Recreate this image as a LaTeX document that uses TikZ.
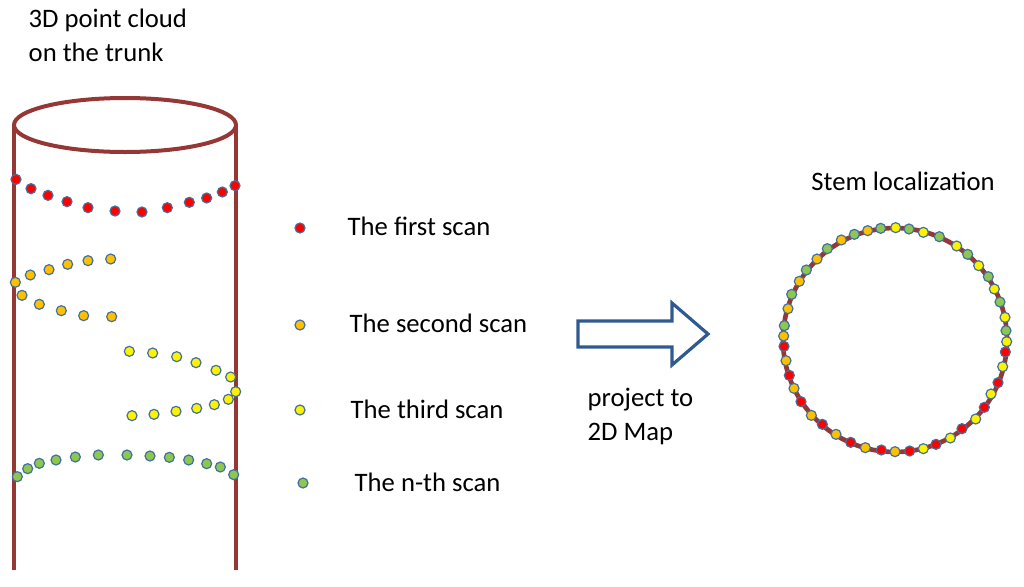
\documentclass[tikz,border=0pt]{standalone}
\usepackage{fontspec}
\setmainfont{Carlito}
\definecolor{brn}{HTML}{953735}
\definecolor{dotline}{HTML}{41719C}
\definecolor{org}{HTML}{FFC000}
\definecolor{grn}{HTML}{8DC650}
\definecolor{arr}{HTML}{2F5A8F}
\begin{document}
\begin{tikzpicture}[x=0.75pt,y=-0.75pt,
  dot/.style={circle,draw=dotline,line width=0.9pt,inner sep=0pt,minimum size=7.5pt},
  R/.style={dot,fill=red}, O/.style={dot,fill=org}, Y/.style={dot,fill=yellow}, G/.style={dot,fill=grn},
  wall/.style={draw=brn,line width=3pt},
  lbl/.style={font=\fontsize{20}{26}\selectfont,anchor=west}]
\useasboundingbox (0,0) rectangle (1024,586);
% cylinder
\draw[wall] (14,125) -- (14,570) (236,125) -- (236,570);
\draw[wall,fill=white] (125,125) ellipse [x radius=111, y radius=27];
\node[lbl,align=left,anchor=north west] (title) at (24,4) {3D point cloud\\on the trunk};
% cylinder dots (zoom coords)
\begin{scope}[shift={(0,170)},x=0.25pt,y=-0.25pt]
\foreach \a/\b in {48/28,93/56,144/76,201/95,264/113,345/123,426/126,502/113,568/97,620/84,667/66,705/47}
  \node[R] at (\a,\b) {};
\foreach \a/\b in {46/337,91/315,147/299,203/283,264/272,332/267,66/376,118/403,184/422,251/437,335/440}
  \node[O] at (\a,\b) {};
\foreach \a/\b in {388/544,458/549,530/560,588/578,648/601,692/621,707/665,685/688,643/704,590/715,528/724,462/733,396/737}
  \node[Y] at (\a,\b) {};
\foreach \a/\b in {52/920,83/896,118/880,168/870,226/861,295/855,381/855,450/858,508/862,566/870,620/881,661/891,701/914}
  \node[G] at (\a,\b) {};
\end{scope}
% legend
\node[R] (l1) at (300,228) {}; \node[lbl] (t1) at (343,226) {The first scan};
\node[O] (l2) at (300,325) {}; \node[lbl] (t2) at (345,323) {The second scan};
\node[Y] (l3) at (300,410) {}; \node[lbl] (t3) at (346,409) {The third scan};
\node[G] (l4) at (303,483) {}; \node[lbl] (t4) at (350,482) {The n-th scan};
% arrow
\draw[draw=arr,line width=2.4pt,line join=miter]
  (578,321) -- (672,321) -- (672,303) -- (708,334) -- (672,365) -- (672,347) -- (578,347) -- cycle;
\node[lbl,align=left,anchor=north west] (proj) at (583,383) {project to\\2D Map};
% circle
\node[font=\fontsize{20}{24}\selectfont] (stem) at (903,181) {Stem localization};
\draw[wall,line width=3.5pt] (895,340) circle [radius=112];
\begin{scope}[shift={(760,210)},x=0.25pt,y=-0.25pt]
\foreach \a/\b/\c in {362/55/G,407/53/Y,447/57/G,490/67/Y,538/80/G,590/108/Y,623/133/G,656/167/Y,685/200/G,703/237/Y,720/276/G,735/322/Y,738/362/G,740/395/Y,736/426/R,728/470/Y,714/518/R,693/552/Y,673/592/R,647/627/Y,606/656/R,571/684/Y,528/703/R,490/716/Y,449/723/R,405/725/O,364/720/R,316/713/O,272/697/R,228/673/O,187/643/R,154/616/O,123/575/R,102/535/O,88/496/R,78/452/O,72/409/R,71/378/O,73/347/G,84/296/O,95/253/G,118/214/O,139/180/G,171/147/O,202/116/G,244/90/O,283/73/G,323/62/O}
  \node[\c] at (\a,\b) {};
\end{scope}
\end{tikzpicture}
\end{document}
